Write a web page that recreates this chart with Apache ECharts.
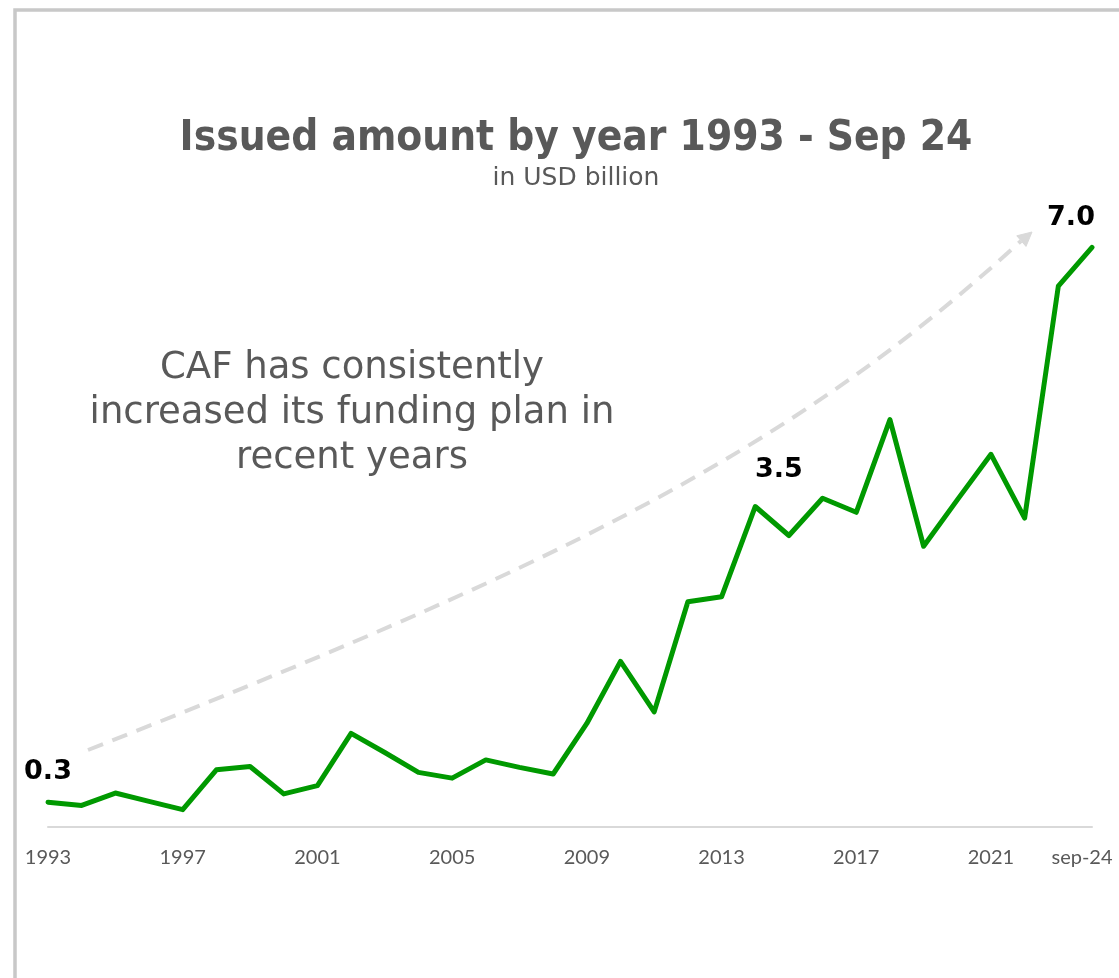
<!DOCTYPE html>
<html>
<head>
<meta charset="utf-8">
<script src="https://cdn.jsdelivr.net/npm/echarts@6/dist/echarts.min.js"></script>
<style>
html,body{margin:0;padding:0;background:#ffffff;}
#chart{width:1119px;height:978px;}
</style>
</head>
<body>
<div id="chart"></div>
<script>
// ---- data ----
const years = ['1993','1994','1995','1996','1997','1998','1999','2000','2001','2002','2003','2004','2005','2006','2007','2008',
  '2009','2010','2011','2012','2013','2014','2015','2016','2017','2018','2019','2020','2021','2022','2023','sep-24'];
const issued = [0.30,0.26,0.41,0.31,0.21,0.69,0.73,0.40,0.50,1.13,0.90,0.66,0.59,0.81,0.72,0.64,
  1.25,2.00,1.39,2.72,2.78,3.87,3.52,3.97,3.80,4.92,3.39,3.95,4.50,3.73,6.53,7.00];
const tickYears = ['1993','1997','2001','2005','2009','2013','2017','2021','sep-24'];
const labeledYears = ['1993','2015','sep-24'];
const titleText = 'Issued amount by year 1993 - Sep 24';
const subtitleText = 'in USD billion';
const noteLines = ['CAF has consistently', 'increased its funding plan in', 'recent years'];

// ---- styling ----
const GREY_TEXT = '#595959';
const labelPlacement = {
  '1993':   { distance: 17, offset: [0, 0] },
  '2015':   { distance: 52, offset: [-10, 0] },
  'sep-24': { distance: 16, offset: [-21, 0] }
};

const seriesData = issued.map((v, i) => {
  const y = years[i];
  if (labeledYears.indexOf(y) < 0) return v;
  const p = labelPlacement[y];
  return {
    value: v,
    label: { show: true, position: 'top', distance: p.distance, offset: p.offset,
      formatter: (prm) => Number(prm.value).toFixed(1) }
  };
});

const chart = echarts.init(document.getElementById('chart'), null, { renderer: 'canvas' });
chart.setOption({
  animation: false,
  backgroundColor: '#ffffff',
  title: [
    { text: titleText, left: 576, top: 139.5, textAlign: 'center', textVerticalAlign: 'middle', padding: 0,
      textStyle: { fontFamily: '"DejaVu Sans Condensed", "DejaVu Sans", sans-serif', fontWeight: 'bold', fontSize: 42, color: GREY_TEXT } },
    { text: subtitleText, left: 576, top: 178.5, textAlign: 'center', textVerticalAlign: 'middle', padding: 0,
      textStyle: { fontFamily: '"DejaVu Sans", sans-serif', fontWeight: 'normal', fontSize: 25, color: GREY_TEXT } }
  ],
  grid: { left: 48, right: 27, top: 164.5, bottom: 151, containLabel: false },
  xAxis: {
    type: 'category',
    data: years,
    boundaryGap: false,
    axisLine: { show: true, lineStyle: { color: '#d9d9d9', width: 2 } },
    axisTick: { show: false },
    splitLine: { show: false },
    axisLabel: {
      interval: (idx, val) => tickYears.indexOf(val) >= 0,
      margin: 21,
      color: GREY_TEXT,
      fontFamily: 'Lato, sans-serif',
      fontSize: 20,
      formatter: (val) => val === years[years.length - 1] ? '{last|' + val + '}' : val,
      rich: { last: { padding: [0, 20, 0, 0], color: GREY_TEXT, fontFamily: 'Lato, sans-serif', fontSize: 20 } }
    }
  },
  yAxis: { type: 'value', min: 0, max: 8, show: false, splitLine: { show: false } },
  series: [{
    type: 'line',
    data: seriesData,
    symbol: 'circle',
    symbolSize: 0,
    showSymbol: true,
    showAllSymbol: true,
    lineStyle: { color: '#009900', width: 5, cap: 'round', join: 'round' },
    itemStyle: { color: '#009900' },
    label: { show: false, color: '#000000', fontFamily: '"DejaVu Sans", sans-serif', fontWeight: 'bold', fontSize: 27 },
    z: 5
  }],
  graphic: [
    { type: 'rect', silent: true, z: -10, shape: { x: 15, y: 10, width: 1300, height: 1100 },
      style: { fill: null, stroke: '#c8c8c8', lineWidth: 3.5 } },
    { type: 'bezierCurve', silent: true, z: 1,
      shape: { x1: 88, y1: 750, cpx1: 538, cpy1: 573, cpx2: 785, cpy2: 457, x2: 1021, y2: 241 },
      style: { fill: null, stroke: '#d9d9d9', lineWidth: 4, lineDash: [16, 10] } },
    { type: 'polygon', silent: true, z: 1,
      shape: { points: [[1032, 232], [1026, 246.4], [1016.8, 235.8]] },
      style: { fill: '#d9d9d9', stroke: '#d9d9d9', lineWidth: 1 } },
    { type: 'text', silent: true, z: 2, x: 352, y: 413.5,
      style: { text: noteLines.join('\n'), fill: GREY_TEXT, fontFamily: '"DejaVu Sans", sans-serif',
        fontSize: 37, lineHeight: 45, align: 'center', verticalAlign: 'middle' } }
  ]
});
</script>
</body>
</html>
